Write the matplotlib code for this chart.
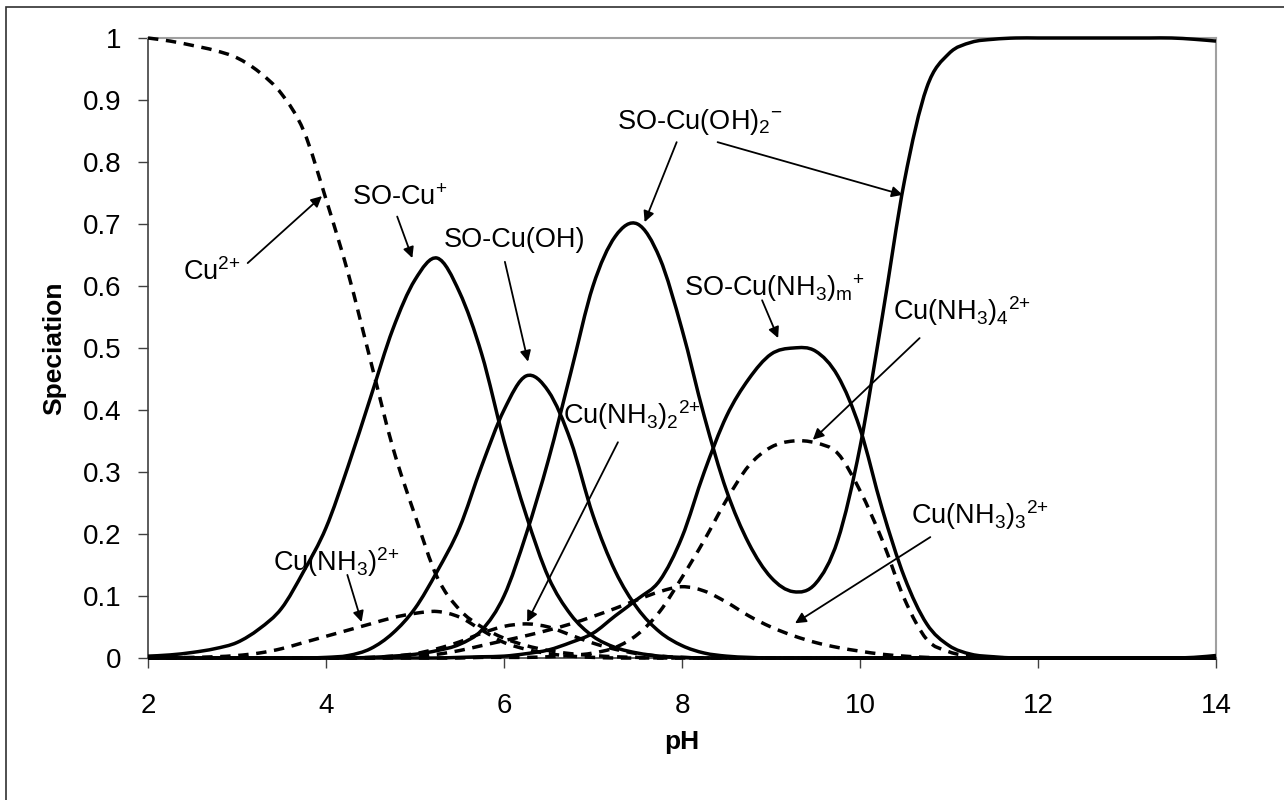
import matplotlib.pyplot as plt
import numpy as np
from matplotlib.patches import Rectangle, PathPatch
from matplotlib.path import Path

plt.rcParams['font.family'] = ['Liberation Sans', 'DejaVu Sans']
plt.rcParams['mathtext.fontset'] = 'custom'
plt.rcParams['mathtext.rm'] = 'Liberation Sans'
plt.rcParams['mathtext.it'] = 'Liberation Sans:italic'
plt.rcParams['mathtext.bf'] = 'Liberation Sans:bold'

# pH grid shared by every species (2 to 14, step 0.25)
ph = np.arange(2.0, 14.01, 0.25)

# surface species (solid lines)
so_cu = [0.003, 0.005, 0.009, 0.015, 0.025, 0.047, 0.08, 0.14,
         0.21, 0.31, 0.42, 0.53, 0.61, 0.645, 0.59, 0.49,
         0.35, 0.23, 0.13, 0.07, 0.035, 0.017, 0.008, 0.003,
         0.001, 0, 0, 0, 0, 0, 0, 0,
         0, 0, 0, 0, 0, 0, 0, 0,
         0, 0, 0, 0, 0, 0, 0, 0,
         0]
so_cuoh = [0, 0, 0, 0, 0, 0, 0, 0,
           0.001, 0.004, 0.015, 0.04, 0.08, 0.14, 0.21, 0.31,
           0.40, 0.455, 0.43, 0.35, 0.23, 0.14, 0.08, 0.042,
           0.02, 0.008, 0.003, 0.001, 0, 0, 0, 0,
           0, 0, 0, 0, 0, 0, 0, 0,
           0, 0, 0, 0, 0, 0, 0, 0,
           0]
so_cuoh2 = [0, 0, 0, 0, 0, 0, 0, 0,
            0, 0, 0.001, 0.003, 0.006, 0.012, 0.022, 0.045,
            0.10, 0.20, 0.32, 0.46, 0.60, 0.68, 0.70, 0.645,
            0.53, 0.39, 0.27, 0.185, 0.13, 0.107, 0.12, 0.19,
            0.34, 0.55, 0.77, 0.92, 0.975, 0.993, 0.998, 1.0,
            1.0, 1.0, 1.0, 1.0, 1.0, 1.0, 1.0, 0.998,
            0.995]
so_cunh3m = [0, 0, 0, 0, 0, 0, 0, 0,
             0, 0, 0, 0, 0, 0, 0.001, 0.002,
             0.003, 0.007, 0.013, 0.025, 0.04, 0.068, 0.095, 0.125,
             0.195, 0.30, 0.39, 0.45, 0.49, 0.50, 0.495, 0.455,
             0.37, 0.24, 0.13, 0.055, 0.02, 0.006, 0.002, 0,
             0, 0, 0, 0, 0, 0, 0, 0.001,
             0.004]

# aqueous species (dashed lines)
cu2 = [1.0, 0.995, 0.988, 0.98, 0.968, 0.945, 0.91, 0.85,
       0.74, 0.62, 0.48, 0.34, 0.23, 0.13, 0.078, 0.05,
       0.032, 0.02, 0.012, 0.007, 0.004, 0.002, 0.001, 0,
       0, 0, 0, 0, 0, 0, 0, 0,
       0, 0, 0, 0, 0, 0, 0, 0,
       0, 0, 0, 0, 0, 0, 0, 0,
       0]
cu_nh3 = [0, 0.0005, 0.001, 0.002, 0.004, 0.008, 0.015, 0.025,
          0.035, 0.045, 0.055, 0.065, 0.072, 0.075, 0.066, 0.045,
          0.025, 0.014, 0.007, 0.003, 0.001, 0, 0, 0,
          0, 0, 0, 0, 0, 0, 0, 0,
          0, 0, 0, 0, 0, 0, 0, 0,
          0, 0, 0, 0, 0, 0, 0, 0,
          0]
cu_nh3_2 = [0, 0, 0, 0, 0, 0, 0, 0,
            0, 0, 0.001, 0.003, 0.007, 0.015, 0.026, 0.04,
            0.051, 0.055, 0.05, 0.037, 0.024, 0.014, 0.007, 0.003,
            0.001, 0, 0, 0, 0, 0, 0, 0,
            0, 0, 0, 0, 0, 0, 0, 0,
            0, 0, 0, 0, 0, 0, 0, 0,
            0]
cu_nh3_3 = [0, 0, 0, 0, 0, 0, 0, 0,
            0, 0, 0, 0.001, 0.003, 0.006, 0.012, 0.02,
            0.028, 0.036, 0.045, 0.055, 0.067, 0.08, 0.094, 0.107,
            0.115, 0.108, 0.09, 0.068, 0.05, 0.036, 0.025, 0.017,
            0.011, 0.006, 0.003, 0.001, 0, 0, 0, 0,
            0, 0, 0, 0, 0, 0, 0, 0,
            0]
cu_nh3_4 = [0, 0, 0, 0, 0, 0, 0, 0,
            0, 0, 0, 0, 0, 0, 0, 0.001,
            0.001, 0.001, 0.002, 0.004, 0.008, 0.017, 0.038, 0.075,
            0.13, 0.19, 0.255, 0.31, 0.34, 0.35, 0.347, 0.33,
            0.27, 0.19, 0.095, 0.03, 0.01, 0.003, 0.001, 0,
            0, 0, 0, 0, 0, 0, 0, 0,
            0]

# label text, (x, y) of text centre, list of arrow (start, tip)
labels = [
    (r'Cu$^{2{+}}$', (2.72, 0.623), [((3.12, 0.637), (3.955, 0.745))]),
    (r'SO-Cu$^{{+}}$', (4.83, 0.742), [((4.80, 0.712), (4.97, 0.645))]),
    ('SO-Cu(OH)', (6.12, 0.674), [((6.01, 0.639), (6.27, 0.478))]),
    (r'SO-Cu(OH)$_2$$^{{-}}$', (8.20, 0.865), [((7.94, 0.832), (7.58, 0.703)),
                                            ((8.40, 0.832), (10.48, 0.747))]),
    (r'SO-Cu(NH$_3$)$_\mathrm{m}$$^{{+}}$', (9.04, 0.597), [((8.90, 0.577), (9.08, 0.516))]),
    (r'Cu(NH$_3$)$_2$$^{2{+}}$', (7.44, 0.392), [((7.28, 0.348), (6.26, 0.058))]),
    (r'Cu(NH$_3$)$_4$$^{2{+}}$', (11.15, 0.56), [((10.67, 0.516), (9.47, 0.352))]),
    (r'Cu(NH$_3$)$_3$$^{2{+}}$', (11.35, 0.231), [((10.79, 0.195), (9.27, 0.056))]),
    (r'Cu(NH$_3$)$^{2{+}}$', (4.12, 0.155), [((4.24, 0.134), (4.40, 0.058))]),
]


def smooth_path(x, y):
    # smoothed line through the points, Bezier segments as in spreadsheet charts
    pts = np.column_stack([x, y]).astype(float)
    ext = np.vstack([pts[0], pts, pts[-1]])
    verts = [pts[0]]
    codes = [Path.MOVETO]
    for i in range(len(pts) - 1):
        p0, p1, p2, p3 = ext[i], ext[i + 1], ext[i + 2], ext[i + 3]
        verts += [p1 + (p2 - p0) / 6, p2 - (p3 - p1) / 6, p2]
        codes += [Path.CURVE4] * 3
    return Path(verts, codes)


fig = plt.figure(figsize=(12.84, 8.0), dpi=100)
ax = fig.add_axes([148 / 1284, 1 - 658 / 800, (1216 - 148) / 1284, (658 - 38) / 800])

dash = (0, (3, 2.2))
for series in [so_cu, so_cuoh, so_cuoh2, so_cunh3m]:
    ax.add_patch(PathPatch(smooth_path(ph, series), fill=False, edgecolor='k', lw=2.5,
                           joinstyle='round', clip_on=False, zorder=3))
for series in [cu2, cu_nh3, cu_nh3_2, cu_nh3_3, cu_nh3_4]:
    ax.add_patch(PathPatch(smooth_path(ph, series), fill=False, edgecolor='k', lw=2.5,
                           linestyle=dash, capstyle='butt', clip_on=False, zorder=3))

for text, pos, arrows in labels:
    ax.text(pos[0], pos[1], text, fontsize=19.5, ha='center', va='center')
    for start, tip in arrows:
        ax.annotate('', xy=tip, xytext=start,
                    arrowprops=dict(arrowstyle='-|>', color='k', lw=1.3,
                                    mutation_scale=16, shrinkA=0, shrinkB=0))

ax.set_xlim(2, 14)
ax.set_ylim(0, 1)
ax.set_xticks(np.arange(2, 15, 2))
ax.set_yticks(np.arange(0, 1.01, 0.1))
ax.set_yticklabels(['0', '0.1', '0.2', '0.3', '0.4', '0.5', '0.6', '0.7', '0.8', '0.9', '1'])
ax.tick_params(direction='out', length=7, width=1, color='#404040', labelsize=20)
ax.tick_params(axis='x', pad=18)
ax.tick_params(axis='y', pad=12)

for side in ['left', 'bottom']:
    ax.spines[side].set_color('#404040')
    ax.spines[side].set_linewidth(1.2)
for side in ['top', 'right']:
    ax.spines[side].set_color('#a0a0a0')
    ax.spines[side].set_linewidth(1.5)

ax.set_xlabel('pH', fontsize=19, fontweight='bold', labelpad=8)
ax.set_ylabel('Speciation', fontsize=19, fontweight='bold', labelpad=12)

# outer chart frame
fig.add_artist(Rectangle((6 / 1284, -0.1), 1.2, 1 - 7 / 800 + 0.1, transform=fig.transFigure,
                         fill=False, edgecolor='#303030', lw=1.2, clip_on=False))

fig.savefig('out.png', dpi=100)
